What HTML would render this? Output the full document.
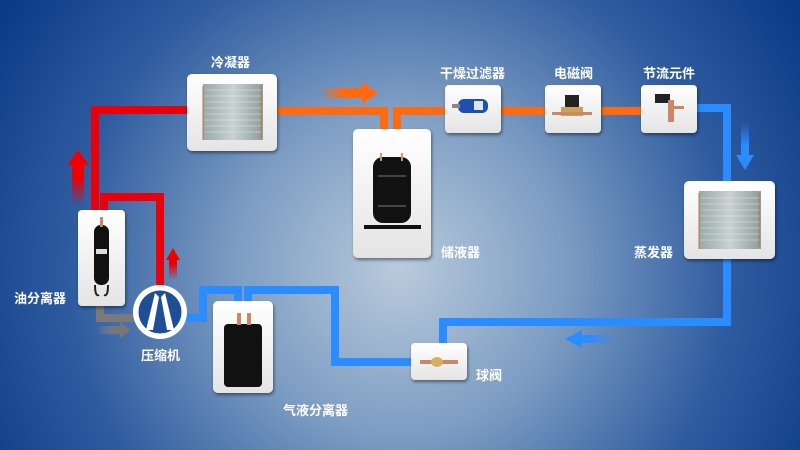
<!DOCTYPE html>
<html><head><meta charset="utf-8"><style>
html,body{margin:0;padding:0;width:800px;height:450px;overflow:hidden}
text{font-family:"Liberation Sans","Noto Sans CJK SC",sans-serif;font-weight:bold;font-size:13px;fill:#fff}
</style></head><body>
<svg width="800" height="450" viewBox="0 0 800 450" xmlns="http://www.w3.org/2000/svg">
<defs>
<radialGradient id="bg" cx="400" cy="270" r="470" gradientUnits="userSpaceOnUse">
<stop offset="0" stop-color="#b9cadc"/><stop offset="0.35" stop-color="#7d9dc3"/><stop offset="0.7" stop-color="#2f5ca0"/><stop offset="1" stop-color="#0d3a86"/>
</radialGradient>
<linearGradient id="box" x1="0" y1="0" x2="0" y2="1"><stop offset="0" stop-color="#fff"/><stop offset="1" stop-color="#e4e4e4"/></linearGradient>
<linearGradient id="coil" x1="0" y1="0" x2="1" y2="0"><stop offset="0" stop-color="#9aa8a8"/><stop offset="0.5" stop-color="#c9d2d2"/><stop offset="1" stop-color="#8f9c9c"/></linearGradient>
<linearGradient id="fadeR" x1="0" y1="1" x2="0" y2="0"><stop offset="0" stop-color="#e00" stop-opacity="0"/><stop offset="0.5" stop-color="#e00"/></linearGradient>
<linearGradient id="fadeO" x1="0" y1="0" x2="1" y2="0"><stop offset="0" stop-color="#ff6a10" stop-opacity="0"/><stop offset="0.4" stop-color="#ff6a10"/></linearGradient>
<linearGradient id="fadeB" x1="0" y1="0" x2="0" y2="1"><stop offset="0" stop-color="#2b8cff" stop-opacity="0"/><stop offset="0.5" stop-color="#2b8cff"/></linearGradient>
<linearGradient id="fadeBL" x1="1" y1="0" x2="0" y2="0"><stop offset="0" stop-color="#2b8cff" stop-opacity="0"/><stop offset="0.5" stop-color="#2b8cff"/></linearGradient>
<linearGradient id="fadeG" x1="0" y1="0" x2="1" y2="0"><stop offset="0" stop-color="#888" stop-opacity="0"/><stop offset="0.5" stop-color="#777"/></linearGradient>
<filter id="sh" x="-20%" y="-20%" width="140%" height="140%"><feDropShadow dx="1" dy="2" stdDeviation="1.5" flood-opacity="0.45"/></filter>
</defs>
<rect width="800" height="450" fill="url(#bg)"/>
<!-- pipes -->
<g fill="none" stroke-width="8" stroke-linejoin="miter">
<path d="M190 110 H95 V212" stroke="#e8000a"/>
<path d="M104 212 V197 H160 V292" stroke="#e8000a"/>
<path d="M100 300 V318 H136" stroke="#7a7a7a"/>
<path d="M275 111 H384 V131 M397 131 V111 H445 M500 111 H546 M600 111 H642" stroke="#ff6a10"/>
<path d="M696 108 H727 V183 M727 256 V322 H443 V345" stroke="#2b8cff"/>
<path d="M412 362 H335 V290 H248 V303" stroke="#2b8cff"/>
<path d="M186 318 H203 V290 H238 V303" stroke="#2b8cff"/>
</g>
<!-- flow arrows -->
<path d="M72 205 V165 H67 L78 150 L89 165 H84 V205Z" fill="url(#fadeR)"/>
<path d="M169 280 V260 H166 L173 248 L180 260 H177 V280Z" fill="url(#fadeR)"/>
<path d="M320 88 H362 V82 L378 93 L362 104 V98 H320Z" fill="url(#fadeO)"/>
<path d="M741 122 V155 H736 L745 170 L754 155 H749 V122Z" fill="url(#fadeB)"/>
<path d="M615 335 H582 V330 L565 339 L582 348 V343 H615Z" fill="url(#fadeBL)"/>
<path d="M97 326 H120 V322 L131 330 L120 338 V334 H97Z" fill="url(#fadeG)"/>
<!-- boxes -->
<g filter="url(#sh)" fill="url(#box)">
<rect x="187" y="74" width="90" height="77" rx="5"/>
<rect x="353" y="129" width="78" height="129" rx="5"/>
<rect x="445" y="85" width="56" height="48" rx="4"/>
<rect x="545" y="85" width="56" height="48" rx="4"/>
<rect x="641" y="85" width="56" height="48" rx="4"/>
<rect x="684" y="181" width="91" height="78" rx="5"/>
<rect x="411" y="343" width="56" height="37" rx="4"/>
<rect x="213" y="301" width="60" height="92" rx="5"/>
<rect x="78" y="210" width="47" height="96" rx="4"/>
</g>
<!-- condenser coil -->
<rect x="203" y="84" width="60" height="56" fill="url(#coil)"/>
<g stroke="#b07a40" stroke-width="1"><path d="M203 86V140M261 86V138"/></g>
<g stroke="#e0e6e6" stroke-width="0.6"><path d="M205 90H261M205 96H261M205 102H261M205 108H261M205 114H261M205 120H261M205 126H261M205 132H261"/></g>
<!-- evaporator coil -->
<rect x="699" y="191" width="62" height="58" fill="url(#coil)"/>
<g stroke="#b07a40" stroke-width="1"><path d="M699 193V249M759 193V247"/></g>
<g stroke="#e0e6e6" stroke-width="0.6"><path d="M701 198H759M701 204H759M701 210H759M701 216H759M701 222H759M701 228H759M701 234H759M701 240H759"/></g>
<!-- receiver -->
<rect x="373" y="157" width="38" height="66" rx="10" fill="#111"/>
<rect x="364" y="225" width="57" height="4" fill="#111"/>
<rect x="380" y="153" width="2" height="8" fill="#c97"/><rect x="401" y="153" width="2" height="8" fill="#c97"/>
<rect x="378" y="175" width="28" height="2" fill="#444"/><rect x="378" y="205" width="28" height="2" fill="#444"/>
<!-- filter -->
<rect x="458" y="99" width="30" height="14" rx="6" fill="#1f4fb0"/><rect x="452" y="104" width="8" height="4" fill="#888"/><rect x="474" y="101" width="9" height="9" fill="#dfe6f5"/>
<!-- solenoid -->
<rect x="565" y="95" width="14" height="12" fill="#222"/><rect x="561" y="107" width="22" height="9" fill="#c9a15a"/><rect x="552" y="112" width="40" height="3" fill="#c86"/>
<!-- txv -->
<rect x="655" y="94" width="15" height="9" fill="#222"/><rect x="668" y="100" width="6" height="22" fill="#c86"/><rect x="670" y="106" width="14" height="3" fill="#c86"/>
<!-- ball valve -->
<rect x="420" y="360" width="38" height="4" fill="#c86"/><ellipse cx="437" cy="362" rx="6" ry="5" fill="#d4b060"/>
<!-- gas-liquid separator -->
<rect x="224" y="324" width="38" height="63" rx="4" fill="#111"/><rect x="237" y="313" width="4" height="12" fill="#c86"/><rect x="247" y="313" width="4" height="12" fill="#c86"/>
<!-- oil separator -->
<rect x="94" y="225" width="15" height="60" rx="7" fill="#111"/><rect x="100" y="217" width="3" height="10" fill="#c86"/><rect x="96" y="249" width="11" height="5" fill="#ddd"/>
<path d="M95 285 q0 12 4 10 M108 285 q0 12 -4 10" stroke="#222" stroke-width="2" fill="none"/>
<!-- compressor -->
<circle cx="160" cy="312" r="27" fill="#fff"/>
<circle cx="160" cy="312" r="23" fill="#1e4e96"/>
<path d="M155 293 L146 330 H153 L159 297Z M165 293 L174 330 H167 L161 297Z" fill="#fff"/>
<circle cx="160" cy="312" r="23" fill="none" stroke="#fff" stroke-width="3"/>
<!-- labels -->
<text x="211" y="67">冷凝器</text>
<text x="440" y="78">干燥过滤器</text>
<text x="554" y="78">电磁阀</text>
<text x="643" y="78">节流元件</text>
<text x="441" y="257">储液器</text>
<text x="634" y="257">蒸发器</text>
<text x="14" y="303">油分离器</text>
<text x="141" y="360">压缩机</text>
<text x="283" y="415">气液分离器</text>
<text x="476" y="380">球阀</text>
</svg>
</body></html>
